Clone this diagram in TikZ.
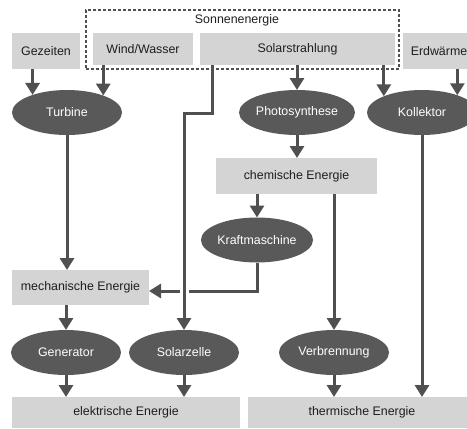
\documentclass[tikz,border=0pt]{standalone}
\usepackage{fontspec}
\setmainfont{Liberation Sans}
\usetikzlibrary{arrows.meta,calc,shapes.geometric}
\definecolor{boxgray}{RGB}{212,212,212}
\definecolor{ellgray}{RGB}{89,89,89}
\definecolor{linegray}{RGB}{80,80,80}
\definecolor{textdark}{RGB}{30,30,30}
\begin{document}
\begin{tikzpicture}[x=1pt,y=-1pt,
  font=\fontsize{12.4}{14}\selectfont,
  gbox/.style={rectangle, fill=boxgray, text=textdark, inner sep=0pt, outer sep=0pt},
  ell/.style={ellipse, fill=ellgray, text=white, minimum width=110pt, minimum height=45pt, inner sep=0pt, outer sep=0pt},
  arr/.style={draw=linegray, line width=3pt, -{Triangle[width=14pt,length=12pt]}},
  plainline/.style={draw=linegray, line width=3pt},
  dashframe/.style={rectangle, draw=linegray, line width=1.4pt, dash pattern=on 3pt off 2pt, inner sep=0pt, outer sep=0pt}]
\useasboundingbox (0,0) rectangle (467,429);
\clip (0,0) rectangle (467,429);

% top boxes
\node[gbox, minimum width=68pt, minimum height=36pt] (gez) at (46,51) {Gezeiten};
\node[gbox, minimum width=100pt, minimum height=32pt] (wind) at (143,49) {Wind/Wasser};
\node[gbox, minimum width=195pt, minimum height=32pt] (solar) at (297.5,49) {Solarstrahlung};
\node[gbox, minimum width=72pt, minimum height=36pt] (erd) at (439,51) {Erdwärme};
\node[dashframe, minimum width=313pt, minimum height=59pt] (sonne) at (242.5,39.5) {};
\node[text=textdark, inner sep=0pt] (sonnelbl) at (237,20) {Sonnenenergie};

% ellipses row 1
\node[ell] (turb) at (67,112.5) {Turbine};
\node[ell] (photo) at (297,112.5) {Photosynthese};
\node[ell] (koll) at (422,112.5) {Kollektor};

% middle
\node[gbox, minimum width=161pt, minimum height=36pt] (chem) at (296.5,176) {chemische Energie};
\node[ell] (kraft) at (257,240) {Kraftmaschine};
\node[gbox, minimum width=137pt, minimum height=35pt] (mech) at (80.5,287.5) {mechanische Energie};

% ellipses row 3
\node[ell] (gen) at (66,352.5) {Generator};
\node[ell] (sol) at (184,352.5) {Solarzelle};
\node[ell] (verb) at (334,352.5) {Verbrennung};

% bottom boxes
\node[gbox, minimum width=228pt, minimum height=31pt] (elek) at (126,412.5) {elektrische Energie};
\node[gbox, minimum width=228pt, minimum height=31pt] (therm) at (362,412.5) {thermische Energie};

% arrows top
\draw[arr] (gez.south -| turb.153.6) -- (turb.153.6);
\draw[arr] (wind.south -| turb.25.3) -- (turb.25.3);
\draw[arr] (solar.south -| photo.north) -- (photo.north);
\draw[arr] (solar.south -| koll.157.8) -- (koll.157.8);
\draw[arr] (erd.south -| koll.26.4) -- (koll.26.4);

% middle arrows
\draw[arr] (turb.south) -- (turb.south |- mech.north);
\draw[arr] (photo.south) -- (photo.south |- chem.north);
\draw[arr] (chem.south -| kraft.north) -- (kraft.north);
\draw[arr] (chem.south -| verb.north) -- (verb.north);
\draw[arr] (koll.south) -- (koll.south |- therm.north);
\coordinate (kmend) at ([yshift=-3.5pt]mech.east);
\draw[arr] (kraft.south) |- (kmend);

% gap at crossing
\coordinate (cross) at (sol.north |- kmend);
\fill[white] ($(cross)+(-4.5,-2.5)$) rectangle ($(cross)+(4.5,2.5)$);
\coordinate (bend) at (212,113);
\draw[arr] (solar.south -| bend) -- (bend) -| (sol.north);

% lower arrows
\draw[arr] (mech.south -| gen.north) -- (gen.north);
\draw[arr] (gen.south) -- (gen.south |- elek.north);
\draw[arr] (sol.south) -- (sol.south |- elek.north);
\draw[arr] (verb.south) -- (verb.south |- therm.north);
\end{tikzpicture}
\end{document}
